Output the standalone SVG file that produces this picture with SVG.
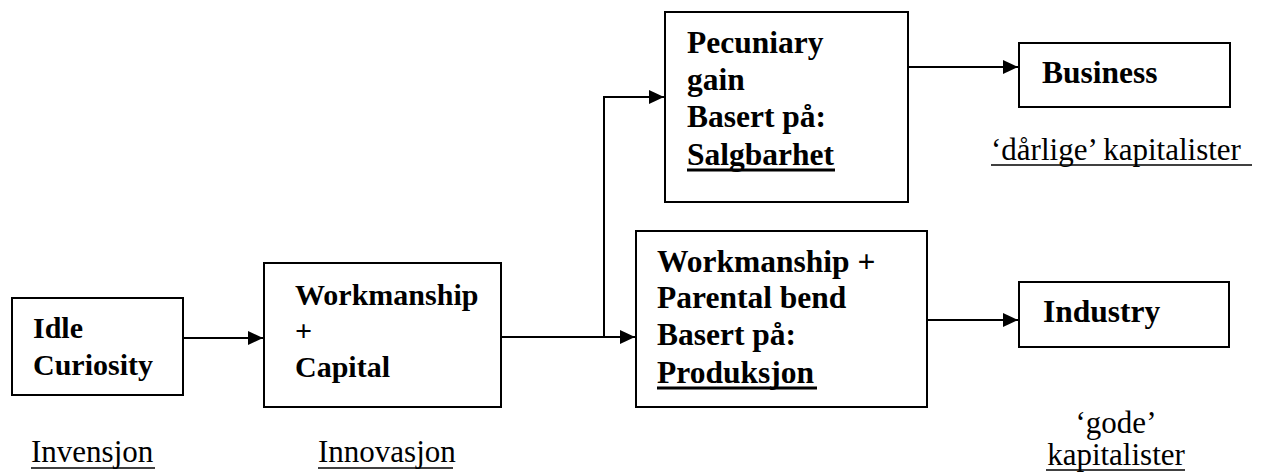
<svg xmlns="http://www.w3.org/2000/svg" width="1266" height="476" viewBox="0 0 1266 476">
<style>
.box{fill:#fff;stroke:#000;stroke-width:2}
.b{font-weight:bold;fill:#000}
.r{font-size:31px;fill:#000}
.ul{stroke:#000;stroke-width:1.5}
.ulb{stroke:#000;stroke-width:3}
.c{fill:none;stroke:#000;stroke-width:2}
</style>
<defs>
<marker id="ah" markerUnits="userSpaceOnUse" markerWidth="16" markerHeight="14" refX="15" refY="7" orient="auto">
<path d="M0,0 L15,7 L0,14 z" fill="#000"/>
</marker>
</defs>
<rect width="1266" height="476" fill="#fff"/>
<g id="connectors">
<line class="c" x1="184" y1="338" x2="263" y2="338" marker-end="url(#ah)"/>
<line class="c" x1="502" y1="337" x2="635" y2="337" marker-end="url(#ah)"/>
<polyline class="c" points="604,337 604,97 664,97" marker-end="url(#ah)"/>
<line class="c" x1="909" y1="67" x2="1018" y2="67" marker-end="url(#ah)"/>
<line class="c" x1="925" y1="320" x2="1018" y2="320" marker-end="url(#ah)"/>
</g>
<g font-family="Liberation Serif, Times New Roman, serif">
<g id="idle">
<rect class="box" x="12" y="298" width="171" height="97"/>
<text class="b" font-size="30"><tspan x="33" y="338">Idle</tspan><tspan x="33" y="375">Curiosity</tspan></text>
</g>
<g id="workcap">
<rect class="box" x="264" y="263" width="237" height="144"/>
<text class="b" font-size="30"><tspan x="295" y="305">Workmanship</tspan><tspan x="295" y="341">+</tspan><tspan x="295" y="377">Capital</tspan></text>
</g>
<g id="pecuniary">
<rect class="box" x="665" y="12" width="243" height="190"/>
<text class="b" font-size="31.5"><tspan x="687" y="53">Pecuniary</tspan><tspan x="687" y="90">gain</tspan><tspan x="687" y="127">Basert på:</tspan><tspan x="687" y="165">Salgbarhet</tspan></text>
<line class="ulb" x1="687" y1="170" x2="835" y2="170"/>
</g>
<g id="parental">
<rect class="box" x="636" y="231" width="291" height="176"/>
<text class="b" font-size="31.5"><tspan x="657" y="272">Workmanship +</tspan><tspan x="657" y="308">Parental bend</tspan><tspan x="657" y="345">Basert på:</tspan><tspan x="657" y="383">Produksjon</tspan></text>
<line class="ulb" x1="657" y1="388" x2="817" y2="388"/>
</g>
<g id="business">
<rect class="box" x="1019" y="43" width="211" height="64"/>
<text class="b" font-size="31.5" x="1042" y="83">Business</text>
</g>
<g id="industry">
<rect class="box" x="1019" y="282" width="210" height="65"/>
<text class="b" font-size="31.5" x="1043" y="322">Industry</text>
</g>
<g id="labels">
<text class="r" x="31" y="462">Invensjon</text>
<line class="ul" x1="31" y1="468" x2="155" y2="468"/>
<text class="r" x="318" y="462">Innovasjon</text>
<line class="ul" x1="318" y1="468" x2="453" y2="468"/>
<text class="r" x="991" y="160">‘dårlige’ kapitalister</text>
<line class="ul" x1="991" y1="165" x2="1252" y2="165"/>
<text class="r" x="1116" y="433" text-anchor="middle">‘gode’</text>
<text class="r" x="1116" y="465" text-anchor="middle">kapitalister</text>
<line class="ul" x1="1046" y1="470" x2="1185" y2="470"/>
</g>
</g>
</svg>
